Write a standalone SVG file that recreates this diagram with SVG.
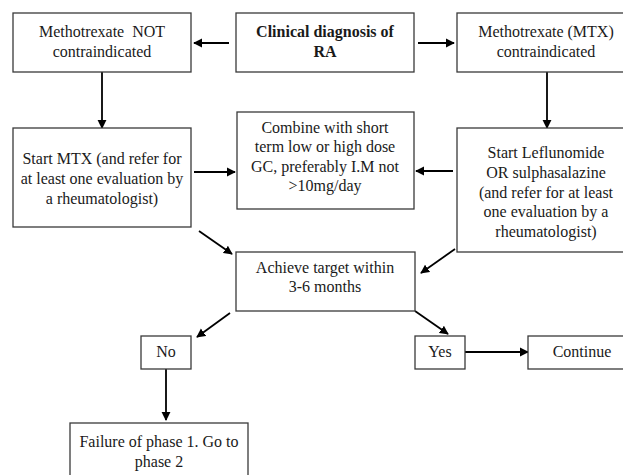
<svg xmlns="http://www.w3.org/2000/svg" width="623" height="475" viewBox="0 0 623 475">
<style>
  .box { fill: #ffffff; stroke: #3a3a3a; stroke-width: 1.3; }
  .t { font-family: "Liberation Serif", "Times New Roman", serif; font-size: 16px; fill: #1a1a1a; text-anchor: middle; white-space: pre; }
  .b { font-weight: bold; }
  .c { stroke: #000; stroke-width: 1.8; fill: none; marker-end: url(#ah); }
</style>
<defs>
  <marker id="ah" viewBox="0 0 10 10" refX="9" refY="5" markerWidth="9" markerHeight="10" markerUnits="userSpaceOnUse" orient="auto">
    <path d="M0,0 L10,5 L0,10 z" fill="#000"/>
  </marker>
</defs>
<rect width="623" height="475" fill="#ffffff"/>

<g id="connectors">
  <line class="c" x1="229" y1="43" x2="194" y2="43"/>
  <line class="c" x1="418" y1="43" x2="454" y2="43"/>
  <line class="c" x1="102" y1="72" x2="102" y2="128"/>
  <line class="c" x1="547" y1="72" x2="547" y2="128"/>
  <line class="c" x1="194" y1="172" x2="235" y2="172"/>
  <line class="c" x1="453" y1="171" x2="416" y2="171"/>
  <line class="c" x1="199" y1="231" x2="232" y2="254"/>
  <line class="c" x1="455" y1="249" x2="421" y2="273"/>
  <line class="c" x1="230" y1="313" x2="197" y2="337"/>
  <line class="c" x1="415" y1="311" x2="448" y2="334"/>
  <line class="c" x1="166" y1="369" x2="166" y2="420"/>
  <line class="c" x1="465" y1="352" x2="528" y2="352"/>
</g>

<g id="node-clinical">
  <rect class="box" x="236" y="13" width="178" height="59"/>
  <text class="t b" x="325" y="37">Clinical diagnosis of</text>
  <text class="t b" x="325" y="57">RA</text>
</g>

<g id="node-mtx-not">
  <rect class="box" x="13" y="13" width="178" height="59"/>
  <text class="t" x="102" y="37">Methotrexate  NOT</text>
  <text class="t" x="102" y="57">contraindicated</text>
</g>

<g id="node-mtx-contra">
  <rect class="box" x="457" y="13" width="178" height="59"/>
  <text class="t" x="546" y="37">Methotrexate (MTX)</text>
  <text class="t" x="546" y="57">contraindicated</text>
</g>

<g id="node-start-mtx">
  <rect class="box" x="13" y="128" width="178" height="99"/>
  <text class="t" x="102" y="164">Start MTX (and refer for</text>
  <text class="t" x="102" y="184">at least one evaluation by</text>
  <text class="t" x="102" y="204">a rheumatologist)</text>
</g>

<g id="node-combine">
  <rect class="box" x="237" y="112" width="177" height="97"/>
  <text class="t" x="325" y="133">Combine with short</text>
  <text class="t" x="325" y="152">term low or high dose</text>
  <text class="t" x="325" y="172">GC, preferably I.M not</text>
  <text class="t" x="325" y="191">&gt;10mg/day</text>
</g>

<g id="node-leflunomide">
  <rect class="box" x="457" y="128" width="178" height="124"/>
  <text class="t" x="546" y="158">Start Leflunomide</text>
  <text class="t" x="546" y="178">OR sulphasalazine</text>
  <text class="t" x="546" y="198">(and refer for at least</text>
  <text class="t" x="546" y="217">one evaluation by a</text>
  <text class="t" x="546" y="237">rheumatologist)</text>
</g>

<g id="node-achieve">
  <rect class="box" x="236" y="252" width="179" height="59"/>
  <text class="t" x="325" y="273">Achieve target within</text>
  <text class="t" x="325" y="292">3-6 months</text>
</g>

<g id="node-no">
  <rect class="box" x="141" y="336" width="50" height="33"/>
  <text class="t" x="166" y="357">No</text>
</g>

<g id="node-yes">
  <rect class="box" x="415" y="336" width="50" height="33"/>
  <text class="t" x="440" y="357">Yes</text>
</g>

<g id="node-continue">
  <rect class="box" x="528" y="336" width="108" height="33"/>
  <text class="t" x="582" y="357">Continue</text>
</g>

<g id="node-failure">
  <rect class="box" x="70" y="423" width="178" height="60"/>
  <text class="t" x="159" y="447">Failure of phase 1. Go to</text>
  <text class="t" x="159" y="467">phase 2</text>
</g>
</svg>
